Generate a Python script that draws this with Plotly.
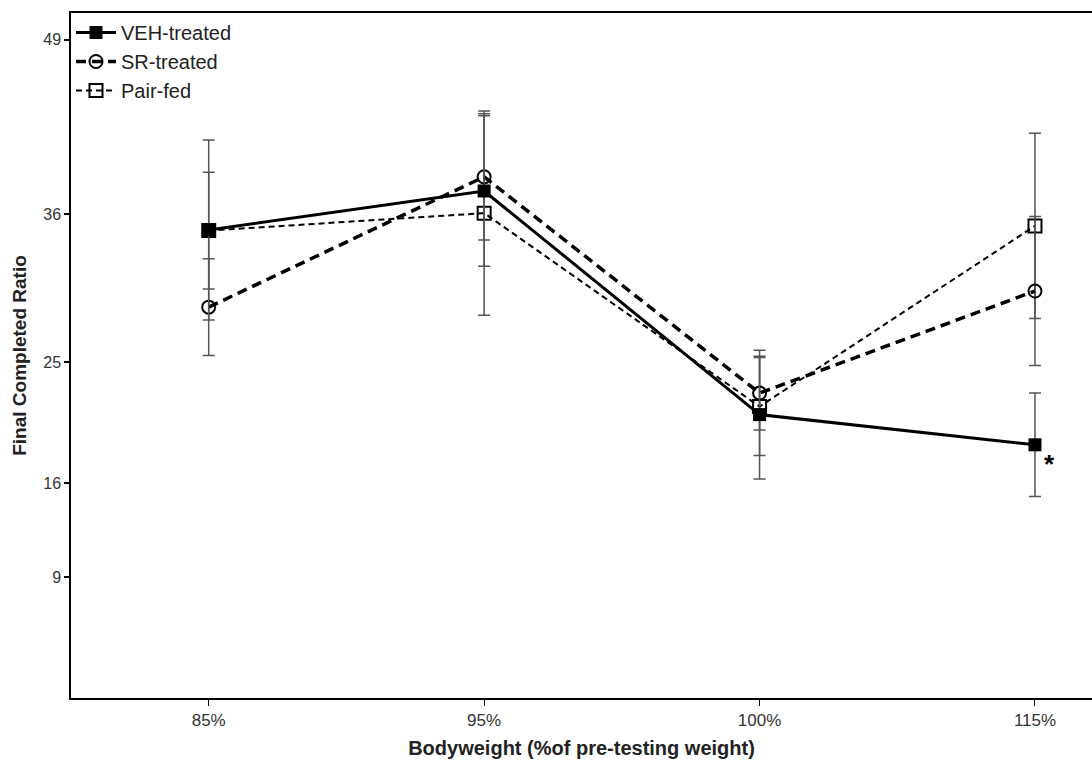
import plotly.graph_objects as go

categories = ["85%", "95%", "100%", "115%"]
veh_mean = [34.85, 37.75, 21.1, 18.85]
veh_err = [6.7, 5.6, 4.8, 3.85]
sr_mean = [29.1, 38.8, 22.7, 30.3]
sr_err = [3.6, 4.7, 2.75, 5.55]
pair_mean = [34.8, 36.1, 21.7, 35.15]
pair_err = [4.35, 7.6, 3.65, 6.9]
y_ticks = [9, 16, 25, 36, 49]

FONT = "Arial, Liberation Sans, sans-serif"
err_style = dict(type="data", visible=True, color="#555555", thickness=1.5, width=6)

fig = go.Figure()
fig.add_trace(go.Scatter(
    x=categories, y=pair_mean, name="Pair-fed", mode="lines+markers",
    line=dict(color="black", width=2, dash="6px,4px"),
    marker=dict(symbol="square-open", size=13, color="black", line=dict(width=2)),
    error_y=dict(array=pair_err, **err_style)))
fig.add_trace(go.Scatter(
    x=categories, y=sr_mean, name="SR-treated", mode="lines+markers",
    line=dict(color="black", width=3.5, dash="10px,6px"),
    marker=dict(symbol="circle-open", size=13, color="black", line=dict(width=2)),
    error_y=dict(array=sr_err, **err_style)))
fig.add_trace(go.Scatter(
    x=categories, y=veh_mean, name="VEH-treated", mode="lines+markers",
    line=dict(color="black", width=3),
    marker=dict(symbol="square", size=13, color="black"),
    error_y=dict(array=veh_err, **err_style)))

fig.add_annotation(x=categories[3], y=veh_mean[3], text="<b>*</b>", showarrow=False,
                   xshift=15, yshift=-19, font=dict(size=26, color="black", family=FONT))

fig.update_layout(
    width=1092, height=766,
    margin=dict(l=71, r=0, t=13, b=68),
    paper_bgcolor="white", plot_bgcolor="white",
    font=dict(family=FONT, color="#333333"),
    showlegend=True,
    legend=dict(x=0.0, y=1.0, xanchor="left", yanchor="top", traceorder="reversed",
                bgcolor="rgba(0,0,0,0)", font=dict(size=20, color="#222222"),
                itemwidth=40),
    xaxis=dict(
        type="category", range=[-0.5, 3.207],
        showline=True, linecolor="black", linewidth=1.5, mirror=True,
        ticks="outside", ticklen=6, tickcolor="black", tickwidth=1,
        showgrid=False, zeroline=False,
        tickfont=dict(size=17, color="#333333"),
        title=dict(text="<b>Bodyweight (%of pre-testing weight)</b>",
                   font=dict(size=20, color="#222222"), standoff=12)),
    yaxis=dict(
        range=[0, 51], tickvals=y_ticks, ticktext=[str(v) for v in y_ticks],
        showline=True, linecolor="black", linewidth=1.5,
        ticks="outside", ticklen=5, tickcolor="black", tickwidth=1.5,
        showgrid=False, zeroline=False,
        tickfont=dict(size=16, color="#333333"),
        title=dict(text="<b>Final Completed Ratio</b>",
                   font=dict(size=19, color="#222222"), standoff=12)),
)

fig.write_html("out.html", config={"displayModeBar": False},
               post_script="document.body.style.margin='0';document.body.style.overflow='hidden';")
